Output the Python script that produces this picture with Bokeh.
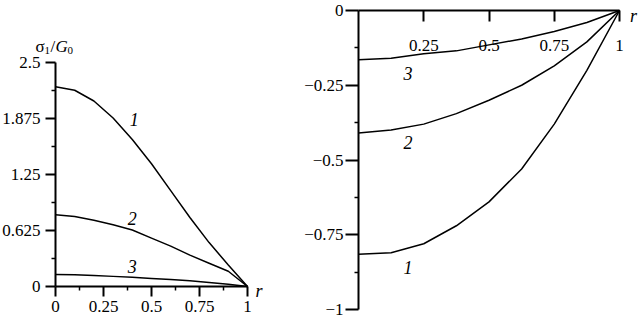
from bokeh.plotting import figure
from bokeh.models import Range1d, FixedTicker, Label, LinearAxis
from bokeh.embed import file_html
from bokeh.resources import INLINE

# ---------------- data ----------------
r_left = [0.0, 0.1, 0.2, 0.3, 0.4, 0.5, 0.6, 0.7, 0.8, 0.9, 1.0]
s1_curve1 = [2.23, 2.19, 2.07, 1.88, 1.64, 1.37, 1.07, 0.77, 0.49, 0.24, 0.0]
s1_curve2 = [0.80, 0.78, 0.74, 0.69, 0.63, 0.54, 0.45, 0.35, 0.26, 0.17, 0.0]
s1_curve3 = [0.135, 0.13, 0.122, 0.113, 0.102, 0.09, 0.077, 0.063, 0.045, 0.025, 0.0]

r_right = [0.0, 0.125, 0.25, 0.375, 0.5, 0.625, 0.75, 0.875, 1.0]
s2_curve1 = [-0.815, -0.81, -0.78, -0.72, -0.64, -0.53, -0.38, -0.20, 0.0]
s2_curve2 = [-0.41, -0.40, -0.38, -0.345, -0.30, -0.25, -0.185, -0.105, 0.0]
s2_curve3 = [-0.165, -0.16, -0.145, -0.135, -0.115, -0.095, -0.07, -0.04, 0.0]

left_xticks = [0, 0.25, 0.5, 0.75, 1]
left_xminor = [0.125, 0.375, 0.625, 0.875]
left_xlabels = ["0", "0.25", "0.5", "0.75", "1"]
left_yticks = [0, 0.625, 1.25, 1.875, 2.5]
left_yminor = [0.3125, 0.9375, 1.5625, 2.1875]
left_ylabels = ["0", "0.625", "1.25", "1.875", "2.5"]

right_xticks = [0.25, 0.5, 0.75, 1]
right_xlabels = ["0.25", "0.5", "0.75", "1"]
right_yticks = [-1, -0.75, -0.5, -0.25, 0]
right_yminor = [-0.875, -0.625, -0.375, -0.125]
right_ylabels = ["\u22121", "\u22120.75", "\u22120.5", "\u22120.25", "0"]

FONT = "Liberation Serif"
TICK_FS = "17px"

# ---------------- layout (canvas pixels) ----------------
W, H = 640, 320
# left panel: x 0..1 and y 0..2.5
LX0, LX1 = 55, 247
LY0, LY1 = 286, 62          # pixel rows (from top) of y=0 and y=2.5
# right panel: x 0..1 and y -1..0
RX0, RX1 = 358, 619
RY0, RYm1 = 10, 309         # pixel rows of y=0 and y=-1


def span(p0, p1, v0, v1, size):
    """range (start, end) so that value v0 sits at pixel p0 and v1 at p1"""
    k = (v1 - v0) / (p1 - p0)
    return v0 - p0 * k, v0 + (size - p0) * k


lx = span(LX0, LX1, 0, 1, W)
ly = span(H - LY0, H - LY1, 0, 2.5, H)
rx = span(RX0, RX1, 0, 1, W)
ry = span(H - RYm1, H - RY0, -1, 0, H)

p = figure(width=W, height=H, x_range=Range1d(*lx), y_range=Range1d(*ly),
           x_axis_type=None, y_axis_type=None,
           output_backend="svg", toolbar_location=None,
           min_border=0, min_border_left=0, min_border_right=0,
           min_border_top=0, min_border_bottom=0)
p.extra_x_ranges = {"rx": Range1d(*rx)}
p.extra_y_ranges = {"ry": Range1d(*ry)}
p.outline_line_color = None
p.grid.visible = False
p.background_fill_color = "white"
p.border_fill_color = "white"


def style_axis(ax, tick_out, minor_out=4, standoff=4):
    ax.axis_line_color = "black"
    ax.axis_line_width = 2
    ax.major_tick_line_color = "black"
    ax.major_tick_line_width = 2
    ax.minor_tick_line_color = "black"
    ax.minor_tick_line_width = 1.5
    ax.major_tick_out = tick_out
    ax.major_tick_in = 0
    ax.minor_tick_out = minor_out
    ax.minor_tick_in = 0
    ax.major_label_text_font = FONT
    ax.major_label_text_font_size = TICK_FS
    ax.major_label_text_color = "black"
    ax.major_label_standoff = standoff


# left axes
ax_lx = LinearAxis(ticker=FixedTicker(ticks=left_xticks, minor_ticks=left_xminor),
                   fixed_location=0, bounds=(0, 1),
                   major_label_overrides=dict(zip(left_xticks, left_xlabels)))
style_axis(ax_lx, 10, standoff=4)
p.add_layout(ax_lx, "below")

ax_ly = LinearAxis(ticker=FixedTicker(ticks=left_yticks, minor_ticks=left_yminor),
                   fixed_location=0, bounds=(0, 2.5),
                   major_label_overrides=dict(zip(left_yticks, left_ylabels)))
style_axis(ax_ly, 10, standoff=5)
p.add_layout(ax_ly, "left")

# right axes
ax_rx = LinearAxis(x_range_name="rx", y_range_name="ry",
                   ticker=FixedTicker(ticks=right_xticks, minor_ticks=[]),
                   fixed_location=0, bounds=(0, 1),
                   major_label_overrides=dict(zip(right_xticks, right_xlabels)))
style_axis(ax_rx, 11, standoff=18)
p.add_layout(ax_rx, "below")

ax_ry = LinearAxis(x_range_name="rx", y_range_name="ry",
                   ticker=FixedTicker(ticks=right_yticks, minor_ticks=right_yminor),
                   fixed_location=0, bounds=(-1, 0),
                   major_label_overrides=dict(zip(right_yticks, right_ylabels)))
style_axis(ax_ry, 13, standoff=2)
p.add_layout(ax_ry, "left")

# curves
for ys in (s1_curve1, s1_curve2, s1_curve3):
    p.line(r_left, ys, line_color="black", line_width=1.5)
for ys in (s2_curve1, s2_curve2, s2_curve3):
    p.line(r_right, ys, line_color="black", line_width=1.5,
           x_range_name="rx", y_range_name="ry")

lab_kw = dict(text_font=FONT, text_font_style="italic", text_font_size="18px",
              text_align="center", text_baseline="middle", text_color="black")
p.add_layout(Label(x=0.41, y=1.86, text="1", **lab_kw))
p.add_layout(Label(x=0.40, y=0.76, text="2", **lab_kw))
p.add_layout(Label(x=0.40, y=0.22, text="3", **lab_kw))
p.add_layout(Label(x=1.06, y=-0.05, text="r", **lab_kw))

rk = dict(x_range_name="rx", y_range_name="ry")
p.add_layout(Label(x=0.19, y=-0.86, text="1", **rk, **lab_kw))
p.add_layout(Label(x=0.19, y=-0.44, text="2", **rk, **lab_kw))
p.add_layout(Label(x=0.19, y=-0.21, text="3", **rk, **lab_kw))
p.add_layout(Label(x=1.054, y=-0.017, text="r", **rk, **lab_kw))

# title sigma_1 / G_0 over the left panel
tkw = dict(text_font=FONT, text_color="black", text_baseline="middle", text_align="left")
tx, ty = -0.104, 2.678
p.add_layout(Label(x=tx, y=ty, text="\u03c3", text_font_size="17px", **tkw))
p.add_layout(Label(x=tx, y=ty, x_offset=9, y_offset=-4, text="1", text_font_size="11px", **tkw))
p.add_layout(Label(x=tx, y=ty, x_offset=15, text="/", text_font_size="17px", **tkw))
p.add_layout(Label(x=tx, y=ty, x_offset=20, text="G", text_font_size="17px",
                   text_font_style="italic", **tkw))
p.add_layout(Label(x=tx, y=ty, x_offset=32, y_offset=-4, text="0", text_font_size="11px", **tkw))

open("out.html", "w").write(file_html(p, INLINE))
